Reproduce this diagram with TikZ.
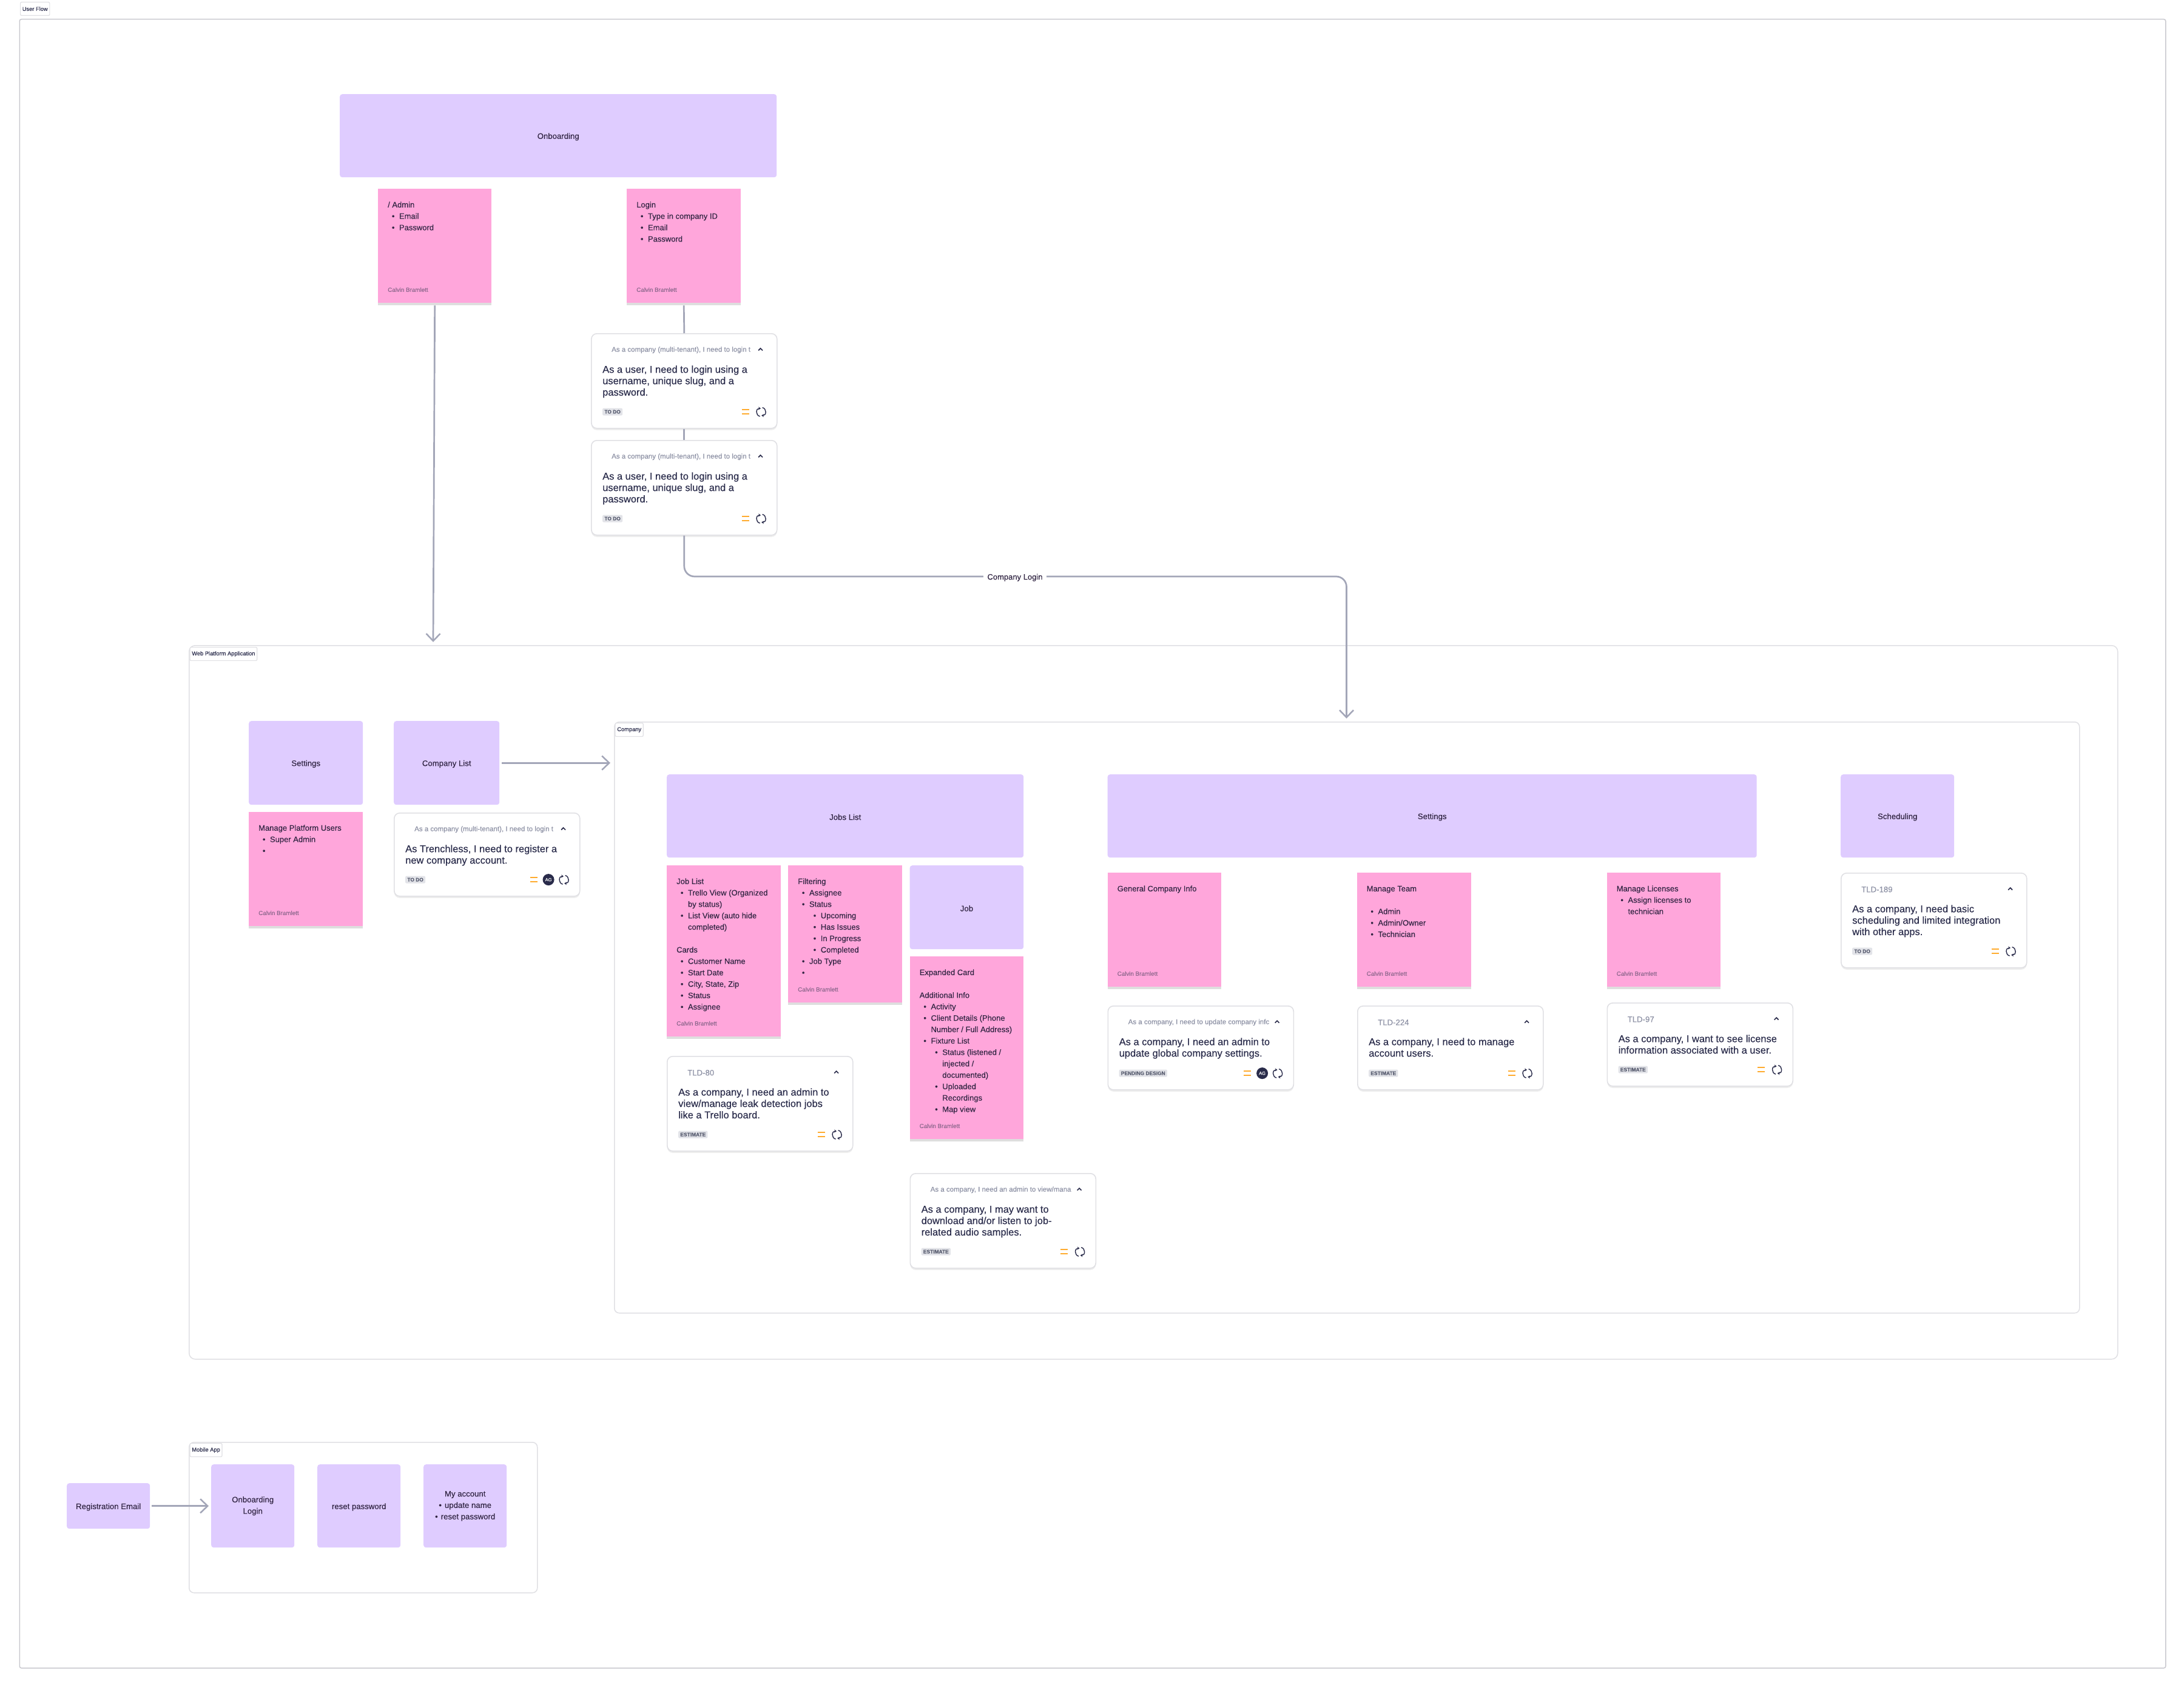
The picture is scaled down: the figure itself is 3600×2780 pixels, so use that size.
\documentclass[tikz,border=0pt]{standalone}
\usepackage{fontspec}
\setmainfont{Liberation Sans}[FakeBold=0.12]
\newfontface\mediumface{Liberation Sans}[FakeBold=0.3]
\usepackage{xcolor}
\usepackage{tikz}
\usetikzlibrary{calc,arrows.meta,shadows}
\definecolor{lilac}{RGB}{223,204,255}
\definecolor{pinknote}{RGB}{255,166,219}
\definecolor{ink}{RGB}{41,43,74}
\definecolor{notetext}{RGB}{48,36,66}
\definecolor{signtext}{RGB}{142,104,142}
\definecolor{headgray}{RGB}{140,144,164}
\definecolor{flowgray}{RGB}{163,166,184}
\definecolor{edge}{RGB}{224,224,228}
\definecolor{outer}{RGB}{200,200,206}
\definecolor{badgebg}{RGB}{226,227,232}
\definecolor{badgetext}{RGB}{88,92,112}
\definecolor{prio}{RGB}{255,171,46}

\tikzset{
    framebox/.style={draw=edge,line width=1.5,rounded corners=8,anchor=north west,inner sep=0,fill=white},
    framelabel/.style={draw=edge,line width=1.2,fill=white,rounded corners=2,anchor=north west,inner xsep=3.2,inner ysep=0,minimum height=22,text=ink,font=\fontsize{9.3}{11}\selectfont},
    screenbox/.style={fill=lilac,rounded corners=4,anchor=north west,inner sep=0,align=center,text=notetext,font=\fontsize{13.2}{18.8}\selectfont,execute at begin node={\rule{0pt}{13pt}}},
    notebox/.style={fill=pinknote,anchor=north west,inner sep=0,drop shadow={shadow xshift=0pt,shadow yshift=-4pt,opacity=.13,fill=black}},
    notetxt/.style={anchor=north west,inner sep=0,align=left,text=notetext,font=\fontsize{13}{18.8}\selectfont},
    notesign/.style={anchor=west,inner sep=0,text=signtext,font=\fontsize{9.8}{12}\selectfont},
    cardbox/.style={draw=edge,line width=1.6,fill=white,rounded corners=9,anchor=north west,inner sep=0,minimum width=306,drop shadow={shadow xshift=0pt,shadow yshift=-3pt,opacity=.07,fill=black}},
    cardhead/.style={anchor=west,inner sep=0,text=headgray,font=\fontsize{11.5}{14}\selectfont},
    cardtxt/.style={anchor=north west,inner sep=0,align=left,text=ink,font=\mediumface\fontsize{16.45}{18.8}\selectfont},
    cardbadge/.style={anchor=west,fill=badgebg,rounded corners=2,inner xsep=3.2,inner ysep=0,minimum height=12,text=badgetext,font=\fontsize{8.4}{10}\selectfont\bfseries},
    chevron/.style={draw=ink,line width=1.6},
    prioritybar/.style={draw=prio,line width=2.6},
    spinline/.style={draw=ink,line width=1.4,-{Stealth[length=4pt,width=5pt]}},
    avatar/.style={circle,fill=ink,minimum size=19,inner sep=0,text=white,font=\fontsize{7.5}{9}\selectfont},
    flowline/.style={draw=flowgray,line width=2.7},
    flowarrow/.style={flowline,-{Straight Barb[length=12pt,width=23pt,line width=2.5pt]}},
    flowlabel/.style={fill=white,inner xsep=6,inner ysep=2,text=notetext,font=\fontsize{13}{16}\selectfont,execute at begin node={\rule{0pt}{13pt}}}
}

\newcommand{\bulone}{\hspace*{6.7pt}\makebox[12.1pt][l]{\textbullet}}
\newcommand{\bultwo}{\hspace*{25.5pt}\makebox[12.1pt][l]{\textbullet}}
\newcommand{\indone}{\hspace*{18.8pt}}
\newcommand{\indtwo}{\hspace*{37.6pt}}
\newcommand{\tldhead}[1]{{\fontsize{13.2}{16}\selectfont #1}}

\newcommand{\stickynote}[6]{
    \node[notebox,minimum width=#4,minimum height=#5] (#1) at (#2,#3) {};
    \node[notetxt] (#1txt) at ([shift={(16,17.5)}]#1.north west) {\strut #6};
    \node[notesign] (#1sign) at ([shift={(16,-22)}]#1.south west) {Calvin Bramlett};
}

\newcommand{\storycard}[8]{
    \node[cardbox,minimum height=#4] (#1) at (#2,#3) {};
    \node[cardhead] (#1head) at ([shift={(34,27.7)}]#1.north west) {#5};
    \node[cardtxt] (#1body) at ([shift={(19,52)}]#1.north west) {\strut #6};
    \node[cardbadge] (#1badge) at ([shift={(19,-28)}]#1.south west) {#7};
    \begin{scope}[shift={(#1.south east)}]
        \draw[prioritybar] (-#8-12,-31.5) -- (-#8,-31.5);
        \draw[prioritybar] (-#8-12,-24.5) -- (-#8,-24.5);
        \draw[spinline] (-29,-20.5) .. controls (-36.5,-22) and (-36,-34) .. (-27.5,-33.5);
        \draw[spinline] (-25,-35) .. controls (-17.5,-33.5) and (-18,-21.5) .. (-26.5,-22);
    \end{scope}
    \begin{scope}[shift={(#1.north east)}]
        \draw[chevron] (-31.5,28.5) -- (-28,25) -- (-24.5,28.5);
    \end{scope}
}
\newcommand{\cardavatar}[1]{
    \node[avatar] (#1ag) at ([shift={(-52.5,-28)}]#1.south east) {AG};
}

\begin{document}
\begin{tikzpicture}[x=1pt,y=-1pt]
    \useasboundingbox (0,0) rectangle (3600,2780);

    \node[framebox,draw=outer,rounded corners=3,minimum width=3537.5,minimum height=2717] (flowframe) at (31.5,31) {};
    \node[framelabel] (flowlabel) at (33,3) {User Flow};

    \node[screenbox,minimum width=720,minimum height=137] (onboarding) at (560,155) {Onboarding};
    \stickynote{adminnote}{623}{311}{187}{188}{/ Admin\\\bulone Email\\\bulone Password}
    \stickynote{loginnote}{1033}{311}{188}{188}{Login\\\bulone Type in company ID\\\bulone Email\\\bulone Password}
    \storycard{logincardA}{974}{549}{156}{As a company (multi-tenant), I need to login t}{As a user, I need to login using a\\username, unique slug, and a\\password.}{TO DO}{47}
    \storycard{logincardB}{974}{725}{156}{As a company (multi-tenant), I need to login t}{As a user, I need to login using a\\username, unique slug, and a\\password.}{TO DO}{47}

    \node[framebox,rounded corners=10,minimum width=3179,minimum height=1176] (webframe) at (311,1063) {};
    \node[framelabel] (weblabel) at (312.5,1066) {Web Platform Application};
    \node[screenbox,minimum width=188,minimum height=138] (platformsettings) at (410,1188) {Settings};
    \node[screenbox,minimum width=174,minimum height=138] (companylist) at (649,1188) {Company List};
    \stickynote{platformnote}{410}{1338}{188}{188}{Manage Platform Users\\\bulone Super Admin\\\bulone}
    \storycard{registercard}{649}{1339}{137}{As a company (multi-tenant), I need to login t}{As Trenchless, I need to register a\\new company account.}{TO DO}{71}
    \cardavatar{registercard}

    \node[framebox,minimum width=2415,minimum height=974] (companyframe) at (1012,1189) {};
    \node[framelabel] (companylabel) at (1013.5,1191) {Company};
    \node[screenbox,minimum width=588,minimum height=137] (jobslist) at (1099,1276) {Jobs List};
    \stickynote{joblistnote}{1099}{1426}{188}{282}{Job List\\\bulone Trello View (Organized\\\indone by status)\\\bulone List View (auto hide\\\indone completed)\\[18.8pt]Cards\\\bulone Customer Name\\\bulone Start Date\\\bulone City, State, Zip\\\bulone Status\\\bulone Assignee}
    \stickynote{filternote}{1299}{1426}{188}{226}{Filtering\\\bulone Assignee\\\bulone Status\\\bultwo Upcoming\\\bultwo Has Issues\\\bultwo In Progress\\\bultwo Completed\\\bulone Job Type\\\bulone}
    \node[screenbox,minimum width=187.5,minimum height=138] (jobscreen) at (1499.5,1426) {Job};
    \stickynote{expandednote}{1499.5}{1576}{187.5}{301}{Expanded Card\\[18.8pt]Additional Info\\\bulone Activity\\\bulone Client Details (Phone\\\indone Number / Full Address)\\\bulone Fixture List\\\bultwo Status (listened /\\\indtwo injected /\\\indtwo documented)\\\bultwo Uploaded\\\indtwo Recordings\\\bultwo Map view}
    \storycard{leakcard}{1099}{1740}{156}{\tldhead{TLD-80}}{As a company, I need an admin to\\view/manage leak detection jobs\\like a Trello board.}{ESTIMATE}{47}
    \storycard{audiocard}{1499.5}{1933}{156}{As a company, I need an admin to view/mana}{As a company, I may want to\\download and/or listen to job-\\related audio samples.}{ESTIMATE}{47}

    \node[screenbox,minimum width=1070,minimum height=137] (companysettings) at (1825.5,1276) {Settings};
    \stickynote{infonote}{1825.5}{1438}{187.5}{188}{General Company Info}
    \stickynote{teamnote}{2236.5}{1438}{188}{188}{Manage Team\\[18.8pt]\bulone Admin\\\bulone Admin/Owner\\\bulone Technician}
    \stickynote{licensenote}{2648.5}{1438}{187.5}{188}{Manage Licenses\\\bulone Assign licenses to\\\indone technician}
    \storycard{infocard}{1825.5}{1657}{138}{As a company, I need to update company infc}{As a company, I need an admin to\\update global company settings.}{PENDING DESIGN}{71}
    \cardavatar{infocard}
    \storycard{teamcard}{2237}{1657}{138}{\tldhead{TLD-224}}{As a company, I need to manage\\account users.}{ESTIMATE}{47}
    \storycard{licensecard}{2648.5}{1652}{137}{\tldhead{TLD-97}}{As a company, I want to see license\\information associated with a user.}{ESTIMATE}{47}

    \node[screenbox,minimum width=187,minimum height=137] (scheduling) at (3034,1276) {Scheduling};
    \storycard{schedulecard}{3034}{1438}{156}{\tldhead{TLD-189}}{As a company, I need basic\\scheduling and limited integration\\with other apps.}{TO DO}{47}

    \node[framebox,minimum width=574,minimum height=248] (mobileframe) at (311,2376) {};
    \node[framelabel] (mobilelabel) at (312.5,2378) {Mobile App};
    \node[screenbox,minimum width=137,minimum height=75] (regemail) at (110,2444) {Registration Email};
    \node[screenbox,minimum width=137,minimum height=137] (mobilelogin) at (348,2413) {Onboarding\\Login};
    \node[screenbox,minimum width=137,minimum height=137] (mobilereset) at (523,2413) {reset password};
    \node[screenbox,minimum width=137,minimum height=137] (mobileaccount) at (698,2413) {My account\\\textbullet\hspace{5pt}update name\\\textbullet\hspace{5pt}reset password};

    \coordinate (admintip) at (714,1058);
    \coordinate (logintip) at (2219.5,1184);
    \coordinate (loginmid) at (1673,950);
    \draw[flowarrow,shorten <=4pt] (adminnote.south) -- (admintip);
    \draw[flowline,shorten <=4pt] (loginnote.south) -- (logincardA.north);
    \draw[flowline] (logincardA.south) -- (logincardB.north);
    \draw[flowarrow,rounded corners=17] (logincardB.south) |- (loginmid) -| (logintip);
    \node[flowlabel] (loginlabel) at (loginmid) {Company Login};
    \draw[flowarrow,shorten <=4pt,shorten >=6pt] (companylist.east) -- (companylist.east -| companyframe.west);
    \draw[flowarrow,shorten <=3pt,shorten >=4pt] (regemail.east) -- (mobilelogin.west |- regemail.east);
\end{tikzpicture}
\end{document}
